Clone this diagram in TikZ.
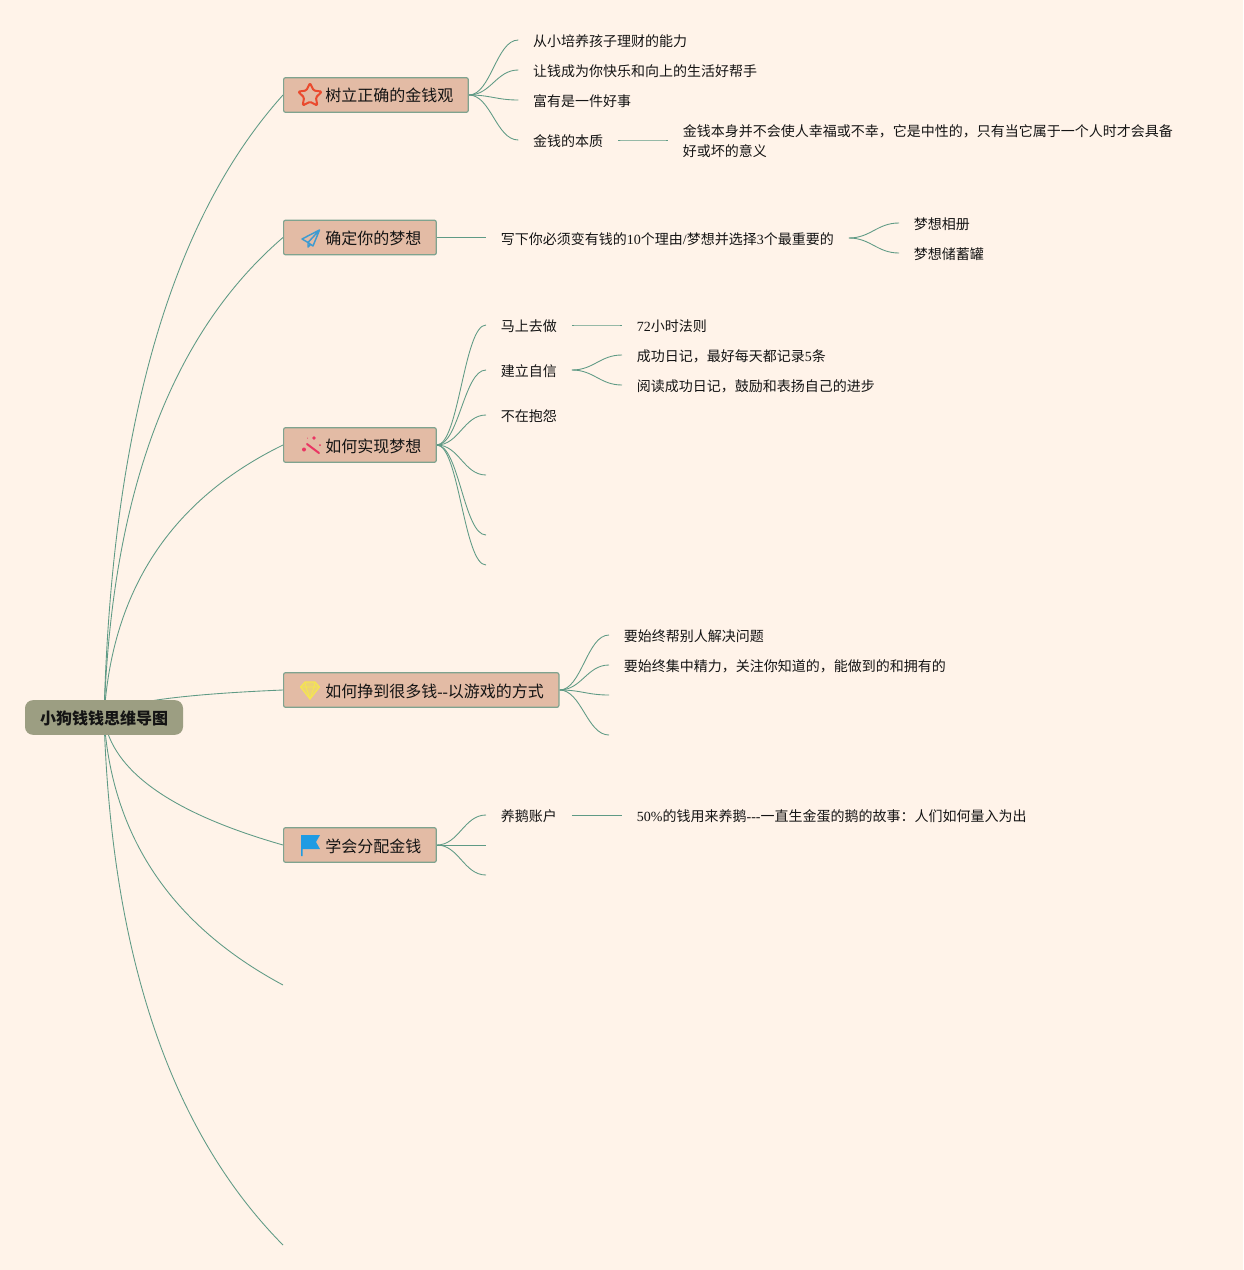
\documentclass[tikz,border=0pt]{standalone}
\usepackage{fontspec}
\setmainfont{Noto Sans CJK SC}
\newfontfamily\latfont{Liberation Serif}
\newcommand{\lat}[1]{{\latfont #1}}
\usetikzlibrary{calc}
\definecolor{pagebg}{HTML}{FFF3E9}
\definecolor{edgecol}{HTML}{5F9A85}
\definecolor{boxfill}{HTML}{E3BBA5}
\definecolor{boxline}{HTML}{7FA38F}
\definecolor{rootfill}{HTML}{9C9E82}
\definecolor{inkcol}{HTML}{141414}
\definecolor{starcol}{HTML}{EA4A2E}
\definecolor{planecol}{HTML}{3E9BD1}
\definecolor{wandcol}{HTML}{EA3563}
\definecolor{gemcol}{HTML}{F5E64F}
\definecolor{flagcol}{HTML}{1E9BE3}
\pgfdeclarelayer{bgl}\pgfdeclarelayer{edges}
\pgfsetlayers{bgl,edges,main}
\tikzset{
  x=0.75pt,y=-0.75pt,
  edge/.style={draw=edgecol,line width=0.65pt},
  rootbox/.style={anchor=center,fill=rootfill,rounded corners=6pt,minimum width=118.5pt,minimum height=26pt,inner sep=0pt,text height=12pt,text depth=1.5pt,font=\fontsize{12}{14}\selectfont\bfseries,text=inkcol},
  branchbox/.style={anchor=west,fill=boxfill,draw=boxline,line width=0.9pt,rounded corners=1.5pt,minimum height=26pt,inner ysep=0pt,inner xsep=11.25pt,text height=12pt,text depth=1.5pt,font=\fontsize{12}{14}\selectfont,text=inkcol},
  leaf/.style={anchor=west,inner xsep=11pt,inner ysep=0pt,font=\fontsize{10.5}{15}\selectfont,text=inkcol,align=left},
}
\newcommand{\branchtext}[1]{\hspace*{20pt}#1}
\begin{document}
\begin{tikzpicture}
\begin{pgfonlayer}{bgl}
\fill[pagebg] (0,0) rectangle (1243,1270);
\end{pgfonlayer}
\useasboundingbox (0,0) rectangle (1243,1270);

% nodes
\node[rootbox] (root) at (104,717.5) {小狗钱钱思维导图};
\node[branchbox] (b1) at (283,95) {\branchtext{树立正确的金钱观}};
\node[branchbox] (b2) at (283,237.5) {\branchtext{确定你的梦想}};
\node[branchbox] (b3) at (283,445) {\branchtext{如何实现梦想}};
\node[branchbox] (b4) at (283,690) {\branchtext{如何挣到很多钱\lat{--}以游戏的方式}};
\node[branchbox] (b5) at (283,845) {\branchtext{学会分配金钱}};
\coordinate (b6) at (283,985);
\coordinate (b7) at (283,1245);

\node[leaf] (a1) at (518.3,41) {从小培养孩子理财的能力};
\node[leaf] (a2) at (518.3,71) {让钱成为你快乐和向上的生活好帮手};
\node[leaf] (a3) at (518.3,101) {富有是一件好事};
\node[leaf] (a4) at (518.3,141) {金钱的本质};
\node[leaf] (a5) at (668,141) {金钱本身并不会使人幸福或不幸，它是中性的，只有当它属于一个人时才会具备\\好或坏的意义};

\node[leaf] (c1) at (486,239) {写下你必须变有钱的\lat{10}个理由\lat{/}梦想并选择\lat{3}个最重要的};
\node[leaf] (c2) at (899,224) {梦想相册};
\node[leaf] (c3) at (899,254) {梦想储蓄罐};

\node[leaf] (d1) at (486,326) {马上去做};
\node[leaf] (d2) at (486,371) {建立自信};
\node[leaf] (d3) at (486,416) {不在抱怨};
\coordinate (d4) at (486,476);
\coordinate (d5) at (486,536);
\coordinate (d6) at (486,566);
\node[leaf] (e1) at (622,326) {\lat{72}小时法则};
\node[leaf] (e2) at (622,356) {成功日记，最好每天都记录\lat{5}条};
\node[leaf] (e3) at (622,386) {阅读成功日记，鼓励和表扬自己的进步};

\node[leaf] (f1) at (609,636) {要始终帮别人解决问题};
\node[leaf] (f2) at (609,666) {要始终集中精力，关注你知道的，能做到的和拥有的};
\coordinate (f3) at (609,696);
\coordinate (f4) at (609,736);

\node[leaf] (g1) at (486,816) {养鹅账户};
\coordinate (g2) at (486,846);
\coordinate (g3) at (486,876);
\node[leaf] (g4) at (622,816) {\lat{50\%}的钱用来养鹅\lat{---}一直生金蛋的鹅的故事：人们如何量入为出};

% connectors
\begin{pgfonlayer}{edges}
\foreach \t/\cy in {b1/282,b2/382,b3/527,b4/697,b5/797,b6/895,b7/1075}{
  \coordinate (cc) at (115,\cy);
  \draw[edge] (root.center) .. controls ($(root.center)!.667!(cc)$) and ($(\t.west)!.667!(cc)$) .. (\t.west);
}
% from a branch box to a leaf
\foreach \s/\t in {b1/a1,b1/a2,b1/a3,b1/a4,b3/d1,b3/d2,b3/d3,b3/d4,b3/d5,b3/d6,
  b4/f1,b4/f2,b4/f3,b4/f4,b5/g1,b5/g2,b5/g3}{
  \draw[edge] (\s.east) .. controls +(22,0) and +(-22,0) .. ([yshift=0.75pt]\t.west);
}
% from a leaf to a leaf
\foreach \s/\t in {c1/c2,c1/c3,d1/e1,d2/e2,d2/e3,g1/g4,a4/a5}{
  \draw[edge] ([yshift=0.75pt]\s.east) .. controls +(22,0) and +(-22,0) .. ([yshift=0.75pt]\t.west);
}
\draw[edge] (b2.east) -- (c1.west |- b2.east);
\end{pgfonlayer}

% icons
\begin{scope}[shift={(310,95.5)}]
\draw[draw=starcol,line width=1.5pt,line join=round,rounded corners=1pt]
  (-90:12.5) -- (-54:6.2) -- (-18:12.5) -- (18:6.2) -- (54:12.5) -- (90:6.2) -- (126:12.5) -- (162:6.2) -- (198:12.5) -- (234:6.2) -- cycle;
\end{scope}
\draw[draw=planecol,line width=1.1pt,line join=round]
  (319.5,230) -- (302,239) -- (308,242.5) -- (319.5,230) -- (313,246) -- (308,242.5) -- (308,247) -- (310.5,244.5);
\draw[draw=wandcol,line width=1.5pt,line cap=round] (307,444) -- (319,453);
\fill[wandcol] (304,449.5) circle (2) (314,438) circle (1.8) (320,445) circle (1) (307.5,438) circle (0.5);
\begin{scope}[shift={(310,690)}]
\fill[gemcol,fill opacity=0.55] (-5,-8) -- (5,-8) -- (9.5,-3) -- (0,9) -- (-9.5,-3) -- cycle;
\draw[gemcol,line width=0.9pt,line join=round] (-5,-8) -- (5,-8) -- (9.5,-3) -- (0,9) -- (-9.5,-3) -- cycle;
\draw[gemcol,line width=0.6pt] (-9.5,-3) -- (9.5,-3) (-4,-3) -- (0,9) -- (4,-3) (-5,-8) -- (-4,-3) (5,-8) -- (4,-3);
\end{scope}
\fill[flagcol] (301,835) -- (320,835) -- (316,842) -- (320,849) -- (302.5,849) -- (302.5,856) -- (301,856) -- cycle;
\end{tikzpicture}
\end{document}
